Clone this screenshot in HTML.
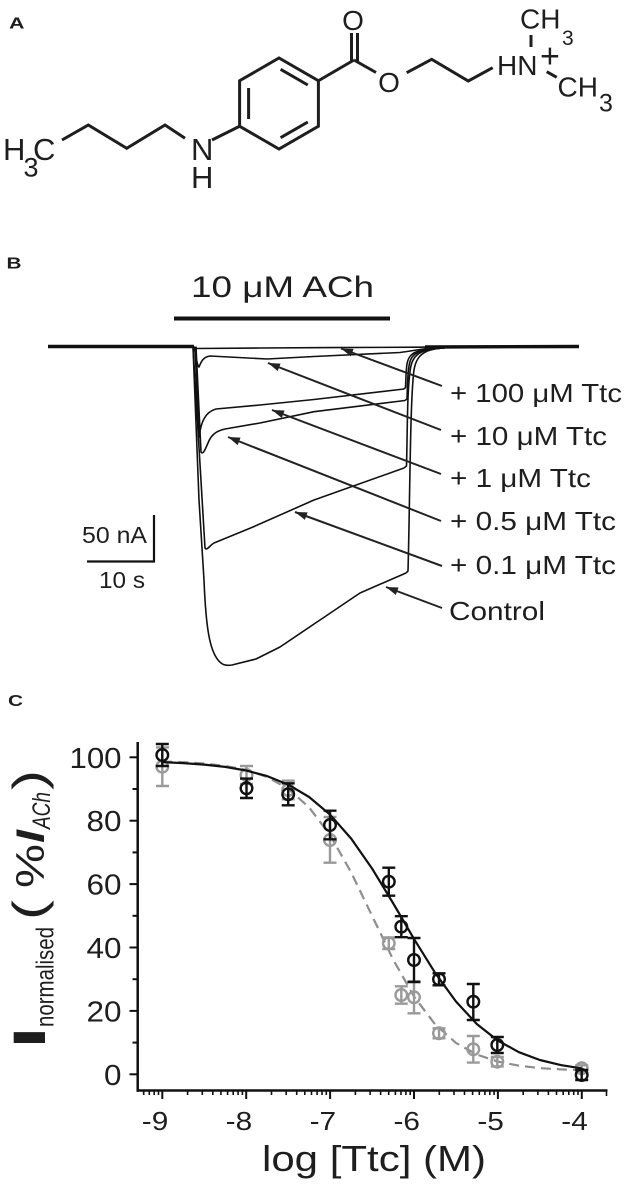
<!DOCTYPE html>
<html><head><meta charset="utf-8"><style>
html,body{margin:0;padding:0;background:#fff;}
svg{display:block;}
text{font-family:"Liberation Sans",Arial,sans-serif;fill:#1e1e1e;}
</style></head><body>
<svg width="628" height="1188" viewBox="0 0 628 1188" xmlns="http://www.w3.org/2000/svg">
<defs>
<marker id="ah" markerUnits="userSpaceOnUse" markerWidth="14" markerHeight="10" refX="12" refY="4" orient="auto">
<path d="M0,0 L12,4 L0,8 z" fill="#222"/>
</marker>
</defs>
<rect width="628" height="1188" fill="#fff"/>

<!-- ===== Panel A ===== -->
<text x="9" y="28.3" font-size="16" font-weight="bold" textLength="15.5" lengthAdjust="spacingAndGlyphs">A</text>
<g stroke="#1e1e1e" stroke-width="3" fill="none" stroke-linejoin="miter">
<polyline points="62,140 88.3,125 126.7,148.3 165,125 185,138.3"/>
<line x1="212" y1="140" x2="239.6" y2="126.25"/>
<polygon points="239.6,126.25 239.6,80.75 279,58 318.4,80.75 318.4,126.25 279,149"/>
<line x1="248.6" y1="88" x2="248.6" y2="119"/>
<line x1="280.6" y1="69.3" x2="307.8" y2="85"/>
<line x1="307.8" y1="122" x2="280.6" y2="137.7"/>
<line x1="318.4" y1="80.75" x2="354" y2="60"/>
<line x1="351.5" y1="61" x2="351.5" y2="33"/>
<line x1="357.5" y1="63" x2="357.5" y2="33"/>
<line x1="354" y1="60" x2="376" y2="72.5"/>
<polyline points="406.7,72.7 431.7,59.3 468.3,81 492.7,67.7"/>
<line x1="531" y1="35" x2="531" y2="47"/>
<line x1="546.7" y1="71.7" x2="556.7" y2="77.3"/>
</g>
<text x="3" y="160" font-size="31">H</text>
<text x="23.5" y="176.5" font-size="27">3</text>
<text x="33" y="160" font-size="31">C</text>
<text x="191" y="160" font-size="31">N</text>
<text x="191" y="188" font-size="31">H</text>
<text x="353" y="30" font-size="28" text-anchor="middle">O</text>
<text x="389" y="92" font-size="28" text-anchor="middle">O</text>
<text x="497" y="75" font-size="28">HN</text>
<text x="540" y="67.5" font-size="34">+</text>
<text x="520" y="28.3" font-size="28">CH</text>
<text x="562" y="45" font-size="21">3</text>
<text x="557.5" y="96.7" font-size="28">CH</text>
<text x="599" y="111.7" font-size="25">3</text>

<!-- ===== Panel B ===== -->
<text x="6.5" y="268.5" font-size="16" font-weight="bold" textLength="15" lengthAdjust="spacingAndGlyphs">B</text>
<text x="191" y="297" font-size="30" textLength="183" lengthAdjust="spacingAndGlyphs">10 μM ACh</text>
<line x1="174" y1="318.5" x2="390" y2="318.5" stroke="#111" stroke-width="4"/>

<g stroke="#111" fill="none" stroke-linejoin="round">
<line x1="48" y1="346.5" x2="194" y2="346.5" stroke-width="3.4"/>
<line x1="425" y1="347" x2="579" y2="346.5" stroke-width="3.4"/>
<g stroke-width="1.6">
<path d="M193,346.5 L196,348.5 L260,348 L330,347.6 L420,347.2 L440,346.8"/>
<path d="M194,346.5 C196,356 197,366 199,367 C201,362 203,357 210,356 L267,359 L314,356.5 L400,352.5 C412,351 420,349 440,347"/>
<path d="M195,346.5 L199,437 C201,422 205,412 216,409 L260,405 L314,399.5 L404,389"/>
<path d="M196,346.5 L201,452 C203,455 205,450 208,443 C211,435 216,431 225,429 L260,423 L314,411.7 L405,400.5"/>
<path d="M193,346.5 L205,548 C207,551 209,546 214,543 L253,527 L314,500 L404,468"/>
<path d="M193,346.5 L199,500 L204,580 C206,630 210,650 218,660 C222,665 226,666 232,665 L256,659 L280,647 L320,620 L360,593 L406,573"/>
<path d="M406,573 L408,571 C410,500 410,400 414,370 C417,352 427,348 455,347"/>
<path d="M404,468 L406.5,466 C407.5,430 407,390 410.5,368 C413,353 422,348.5 450,347.5"/>
<path d="M405,400.5 L407,399 C407.5,385 407.5,375 409,366 C411,353 418,349 445,348"/>
<path d="M404,389 L405.5,387.5 C406,378 406,370 407,364 C409,353 415,349.5 440,348.5"/>
</g>
</g>

<!-- scale bar -->
<g stroke="#111" stroke-width="2.2" fill="none">
<line x1="154" y1="515" x2="154" y2="562"/>
<line x1="87" y1="561.5" x2="155" y2="561.5"/>
</g>
<text x="82" y="543" font-size="23" textLength="65" lengthAdjust="spacingAndGlyphs">50 nA</text>
<text x="99" y="588" font-size="23" textLength="46" lengthAdjust="spacingAndGlyphs">10 s</text>

<!-- arrows -->
<g stroke="#222" stroke-width="2" fill="none" marker-end="url(#ah)">
<line x1="442" y1="386" x2="341" y2="348.5"/>
<line x1="441" y1="430" x2="268" y2="363"/>
<line x1="441" y1="474" x2="272" y2="410"/>
<line x1="441" y1="521" x2="228" y2="437"/>
<line x1="442" y1="566" x2="295" y2="512"/>
<line x1="442" y1="608" x2="386" y2="587"/>
</g>
<g font-size="26">
<text x="450" y="402" textLength="172" lengthAdjust="spacingAndGlyphs">+ 100 μM Ttc</text>
<text x="450" y="445" textLength="157" lengthAdjust="spacingAndGlyphs">+ 10 μM Ttc</text>
<text x="450" y="487" textLength="141" lengthAdjust="spacingAndGlyphs">+ 1 μM Ttc</text>
<text x="450" y="530" textLength="166" lengthAdjust="spacingAndGlyphs">+ 0.5 μM Ttc</text>
<text x="450" y="574" textLength="166" lengthAdjust="spacingAndGlyphs">+ 0.1 μM Ttc</text>
<text x="449" y="620" textLength="96" lengthAdjust="spacingAndGlyphs">Control</text>
</g>

<!-- ===== Panel C ===== -->
<text x="8" y="706" font-size="16" font-weight="bold" textLength="15" lengthAdjust="spacingAndGlyphs">C</text>

<!-- axes -->
<g stroke="#111" fill="none">
<line x1="137.7" y1="742" x2="137.7" y2="1091.7" stroke-width="2.5"/>
<line x1="136.5" y1="1090.5" x2="607.5" y2="1090.5" stroke-width="2.5"/>
<g stroke-width="2">
<line x1="129.5" y1="757.3" x2="137.7" y2="757.3"/>
<line x1="129.5" y1="820.7" x2="137.7" y2="820.7"/>
<line x1="129.5" y1="884.1" x2="137.7" y2="884.1"/>
<line x1="129.5" y1="947.5" x2="137.7" y2="947.5"/>
<line x1="129.5" y1="1010.9" x2="137.7" y2="1010.9"/>
<line x1="129.5" y1="1074.3" x2="137.7" y2="1074.3"/>
<line x1="132.5" y1="789" x2="137.7" y2="789"/>
<line x1="132.5" y1="852.4" x2="137.7" y2="852.4"/>
<line x1="132.5" y1="915.8" x2="137.7" y2="915.8"/>
<line x1="132.5" y1="979.2" x2="137.7" y2="979.2"/>
<line x1="132.5" y1="1042.6" x2="137.7" y2="1042.6"/>
</g>
<g stroke-width="2">
<line x1="162.3" y1="1090" x2="162.3" y2="1099"/>
<line x1="246.2" y1="1090" x2="246.2" y2="1099"/>
<line x1="330.1" y1="1090" x2="330.1" y2="1099"/>
<line x1="414" y1="1090" x2="414" y2="1099"/>
<line x1="497.9" y1="1090" x2="497.9" y2="1099"/>
<line x1="581.8" y1="1090" x2="581.8" y2="1099"/>
</g>
<path stroke-width="1.6" d="
M143.7,1090v5 M149.3,1090v5 M154.2,1090v5 M158.5,1090v5
M187.6,1090v5 M202.3,1090v5 M212.8,1090v5 M220.9,1090v5 M227.6,1090v5 M233.2,1090v5 M238.1,1090v5 M242.4,1090v5
M271.5,1090v5 M286.2,1090v5 M296.7,1090v5 M304.8,1090v5 M311.5,1090v5 M317.1,1090v5 M322,1090v5 M326.3,1090v5
M355.4,1090v5 M370.1,1090v5 M380.6,1090v5 M388.7,1090v5 M395.4,1090v5 M401,1090v5 M405.9,1090v5 M410.2,1090v5
M439.3,1090v5 M454,1090v5 M464.5,1090v5 M472.6,1090v5 M479.3,1090v5 M484.9,1090v5 M489.8,1090v5 M494.1,1090v5
M523.2,1090v5 M537.9,1090v5 M548.4,1090v5 M556.5,1090v5 M563.2,1090v5 M568.8,1090v5 M573.7,1090v5 M578,1090v5
M606.5,1090v6"/>
</g>

<!-- y tick labels -->
<g font-size="29" text-anchor="end">
<text x="121.5" y="767.8" textLength="52" lengthAdjust="spacingAndGlyphs">100</text>
<text x="121.5" y="831.2" textLength="35" lengthAdjust="spacingAndGlyphs">80</text>
<text x="121.5" y="894.6" textLength="35" lengthAdjust="spacingAndGlyphs">60</text>
<text x="121.5" y="958" textLength="35" lengthAdjust="spacingAndGlyphs">40</text>
<text x="121.5" y="1021.4" textLength="35" lengthAdjust="spacingAndGlyphs">20</text>
<text x="121.5" y="1084.8" textLength="17.5" lengthAdjust="spacingAndGlyphs">0</text>
</g>
<!-- x tick labels -->
<g font-size="26">
<text x="141.8" y="1130" textLength="26.5" lengthAdjust="spacingAndGlyphs">-9</text>
<text x="225.7" y="1130" textLength="26.5" lengthAdjust="spacingAndGlyphs">-8</text>
<text x="309.6" y="1130" textLength="26.5" lengthAdjust="spacingAndGlyphs">-7</text>
<text x="393.5" y="1130" textLength="26.5" lengthAdjust="spacingAndGlyphs">-6</text>
<text x="477.4" y="1130" textLength="26.5" lengthAdjust="spacingAndGlyphs">-5</text>
<text x="561.3" y="1130" textLength="26.5" lengthAdjust="spacingAndGlyphs">-4</text>
</g>
<text x="262" y="1171" font-size="36" textLength="224" lengthAdjust="spacingAndGlyphs">log [Ttc] (M)</text>

<!-- y axis title (rotated) -->
<text transform="translate(45,1048) scale(1.2,1) rotate(-90) scale(2.0,1)" font-size="37.5" font-weight="bold">I</text>
<text transform="translate(53.3,1027) scale(1.2,1) rotate(-90)" font-size="20.5" textLength="100" lengthAdjust="spacingAndGlyphs">normalised</text>
<text transform="translate(44,920) scale(1.2,1) rotate(-90)" font-size="37" textLength="20" lengthAdjust="spacingAndGlyphs">(</text>
<text transform="translate(44,888) scale(1.2,1) rotate(-90)" font-size="33" textLength="44" lengthAdjust="spacingAndGlyphs">%</text>
<text transform="translate(44,843) scale(1.2,1) rotate(-90)" font-size="33" font-weight="bold" font-style="italic" textLength="13" lengthAdjust="spacingAndGlyphs">I</text>
<text transform="translate(50,829) scale(1.2,1) rotate(-90)" font-size="21" font-style="italic" textLength="37" lengthAdjust="spacingAndGlyphs">ACh</text>
<text transform="translate(44,790) scale(1.2,1) rotate(-90)" font-size="37" textLength="20" lengthAdjust="spacingAndGlyphs">)</text>

<!-- gray dashed fit -->
<polyline fill="none" stroke="#8e8e8e" stroke-width="2.2" stroke-dasharray="10 6" stroke-linejoin="round"
points="162.3,761.5 183.3,762.2 204.25,763.5 225.2,765.9 246.2,770 267.2,777 288.15,788.7 309.1,807.4 330.1,835.1 351.1,872.3 372.05,915.8 393,959.3 414,996.5 435,1024.2 455.95,1042.9 476.9,1054.6 497.9,1061.6 518.9,1065.7 539.85,1068.1 560.8,1069.4 581.8,1070.1"/>

<!-- gray points -->
<g stroke="#9a9a9a" stroke-width="2.4" fill="none">
<path d="M162.3,747.4V786 M156,747.4h13 M156,786h13"/>
<path d="M246.5,766V784 M240,766h13 M240,784h13"/>
<path d="M288.2,780.7V799.3 M281.7,780.7h13 M281.7,799.3h13"/>
<path d="M330,817V862.7 M323.5,817h13 M323.5,862.7h13"/>
<path d="M388.8,937.5V949 M382.3,937.5h13 M382.3,949h13"/>
<path d="M401.3,986.3V1003.7 M394.8,986.3h13 M394.8,1003.7h13"/>
<path d="M414,981.3V1013.3 M407.5,981.3h13 M407.5,1013.3h13"/>
<path d="M439,1028.3V1038.3 M432.5,1028.3h13 M432.5,1038.3h13"/>
<path d="M473.3,1036V1062.6 M466.8,1036h13 M466.8,1062.6h13"/>
<path d="M497.3,1057V1066.4 M490.8,1057h13 M490.8,1066.4h13"/>
<path d="M581.7,1065.3V1071.3 M575.2,1065.3h13 M575.2,1071.3h13"/>
<circle cx="162.3" cy="766.7" r="5.8"/>
<circle cx="246.5" cy="775" r="5.8"/>
<circle cx="288.2" cy="790" r="5.8"/>
<circle cx="330" cy="840" r="5.8"/>
<circle cx="388.8" cy="943.3" r="5.8"/>
<circle cx="401.3" cy="995" r="5.8"/>
<circle cx="414" cy="997.3" r="5.8"/>
<circle cx="439" cy="1033.3" r="5.8"/>
<circle cx="473.3" cy="1049.3" r="5.8"/>
<circle cx="497.3" cy="1061.7" r="5.8"/>
<circle cx="581.7" cy="1068.3" r="5.8"/>
</g>

<!-- black fit -->
<polyline fill="none" stroke="#111" stroke-width="2.2" stroke-linejoin="round"
points="162.3,762.1 183.3,763.1 204.25,764.6 225.2,766.9 246.2,770.5 267.2,776.1 288.15,784.6 309.1,797 330.1,814.7 351.1,838.5 372.05,868.5 393,903 414,938.9 435,972.7 455.95,1001.5 476.9,1024.1 497.9,1040.6 518.9,1052.2 539.85,1060 560.8,1065.1 581.8,1068.4"/>

<!-- black points -->
<g stroke="#111" stroke-width="2.4" fill="none">
<path d="M162.3,744V766 M155.8,744h13 M155.8,766h13"/>
<path d="M246.5,778.6V798 M240,778.6h13 M240,798h13"/>
<path d="M288.2,783.3V805.3 M281.7,783.3h13 M281.7,805.3h13"/>
<path d="M330,810.7V839.3 M323.5,810.7h13 M323.5,839.3h13"/>
<path d="M388.8,867.7V895.7 M382.3,867.7h13 M382.3,895.7h13"/>
<path d="M401.3,916.2V937.2 M394.8,916.2h13 M394.8,937.2h13"/>
<path d="M414,938V982 M407.5,938h13 M407.5,982h13"/>
<path d="M439,973.3V985.3 M432.5,973.3h13 M432.5,985.3h13"/>
<path d="M473.3,984V1020 M466.8,984h13 M466.8,1020h13"/>
<path d="M497.3,1037V1053 M490.8,1037h13 M490.8,1053h13"/>
<path d="M581.7,1070V1080 M575.2,1070h13 M575.2,1080h13"/>
<circle cx="162.3" cy="755" r="5.8"/>
<circle cx="246.5" cy="788.3" r="5.8"/>
<circle cx="288.2" cy="794.3" r="5.8"/>
<circle cx="330" cy="825" r="5.8"/>
<circle cx="388.8" cy="881.7" r="5.8"/>
<circle cx="401.3" cy="926.7" r="5.8"/>
<circle cx="414" cy="960" r="5.8"/>
<circle cx="439" cy="979.3" r="5.8"/>
<circle cx="473.3" cy="1001.7" r="5.8"/>
<circle cx="497.3" cy="1045" r="5.8"/>
<circle cx="581.7" cy="1075" r="5.8"/>
</g>
</svg>
</body></html>
